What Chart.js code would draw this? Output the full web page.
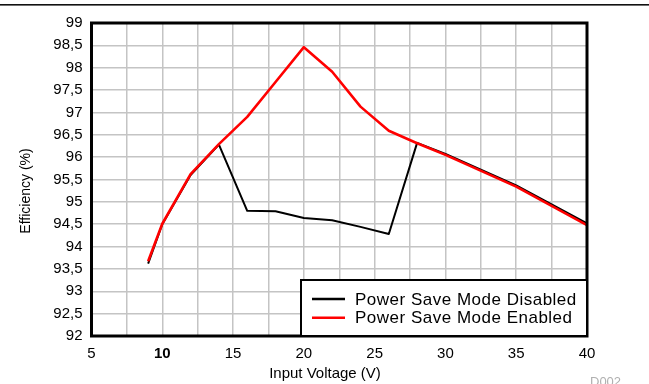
<!DOCTYPE html>
<html>
<head>
<meta charset="utf-8">
<title>Efficiency vs Input Voltage</title>
<script src="https://cdn.jsdelivr.net/npm/chart.js@4.4.1/dist/chart.umd.min.js"></script>
<style>
    html, body { margin: 0; padding: 0; background: #fff; }
    #wrap { position: relative; width: 649px; height: 384px; }
</style>
</head>
<body>
<div id="wrap"><canvas id="effChart"></canvas></div>
<script>
// --- Efficiency curves, PSM disabled / enabled ---

// 1. Data
const voltage = [9, 10, 12, 14, 16, 18, 20, 22, 24, 26, 28, 30, 35, 40];
const psmDisabled = [93.62, 94.5, 95.6, 96.28, 94.8, 94.79, 94.64, 94.59, 94.44, 94.28, 96.32, 96.07, 95.37, 94.52];
const psmEnabled = [93.67, 94.51, 95.62, 96.29, 96.9, 97.68, 98.46, 97.91, 97.13, 96.59, 96.31, 96.05, 95.34, 94.48];
const seriesLabels = ['Power Save Mode Disabled', 'Power Save Mode Enabled'];
const seriesColors = ['#000000', '#ff0000'];
const xTickLabels = [5, 10, 15, 20, 25, 30, 35, 40];
const xTitle = 'Input Voltage (V)';
const yTitle = 'Efficiency (%)';

const FONT = 'Arial, "Liberation Sans", Helvetica, sans-serif';

function toPoints(xs, ys) {
    return xs.map((x, i) => ({ x: x, y: ys[i] }));
}

// 2. Frame, axis titles, legend box and figure tag
const framePlugin = {
    id: 'frame',
    afterDatasetsDraw(chart) {
        const { ctx, chartArea: a } = chart;
        ctx.save();

        // outer plot frame
        ctx.strokeStyle = '#000';
        ctx.lineWidth = 3;
        ctx.strokeRect(a.left, a.top, a.right - a.left, a.bottom - a.top);

        // legend, anchored to the lower right corner of the plot
        const boxL = 301, boxT = 280;
        ctx.fillStyle = '#fff';
        ctx.fillRect(boxL, boxT, a.right - boxL, a.bottom - boxT);
        ctx.lineWidth = 2;
        ctx.strokeRect(boxL, boxT, a.right - boxL, a.bottom - boxT);

        ctx.font = '17px ' + FONT;
        ctx.textBaseline = 'middle';
        ctx.textAlign = 'left';
        if ('letterSpacing' in ctx) ctx.letterSpacing = '0.5px';
        chart.data.datasets.forEach((ds, i) => {
            const y = 299 + i * 18.7;
            ctx.strokeStyle = ds.borderColor;
            ctx.lineWidth = 2.5;
            ctx.beginPath();
            ctx.moveTo(312, y);
            ctx.lineTo(345, y);
            ctx.stroke();
            ctx.fillStyle = '#000';
            ctx.fillText(ds.label, 355, y + 1);
        });
        if ('letterSpacing' in ctx) ctx.letterSpacing = '0px';

        ctx.restore();
    },
    afterDraw(chart) {
        const { ctx, width } = chart;
        ctx.save();
        ctx.fillStyle = '#111';
        ctx.fillRect(0, 4, width, 1.6);

        // axis titles, centred on the whole figure
        ctx.fillStyle = '#000';
        ctx.textAlign = 'center';
        ctx.textBaseline = 'middle';
        ctx.font = '15px ' + FONT;
        ctx.fillText(xTitle, 325, 374);

        ctx.save();
        ctx.translate(26, 191);
        ctx.rotate(-Math.PI / 2);
        ctx.font = '14px ' + FONT;
        ctx.fillText(yTitle, 0, 0);
        ctx.restore();

        ctx.fillStyle = '#b0b0b0';
        ctx.font = '13px ' + FONT;
        ctx.textBaseline = 'alphabetic';
        ctx.textAlign = 'left';
        ctx.fillText('D002', 590, 386);
        ctx.restore();
    }
};

// 3. Chart
const ctx = document.getElementById('effChart').getContext('2d');
const effChart = new Chart(ctx, {
    type: 'line',
    data: {
        datasets: [
            {
                label: seriesLabels[0],
                data: toPoints(voltage, psmDisabled),
                borderColor: seriesColors[0],
                borderWidth: 2,
                order: 1
            },
            {
                label: seriesLabels[1],
                data: toPoints(voltage, psmEnabled),
                borderColor: seriesColors[1],
                borderWidth: 2.6,
                order: 0
            }
        ]
    },
    options: {
        responsive: true,
        maintainAspectRatio: false,
        animation: false,
        elements: {
            point: { radius: 0 },
            line: { tension: 0, fill: false, borderJoinStyle: 'round' }
        },
        layout: { padding: { top: 23, right: 62, bottom: 0, left: 0 } },
        scales: {
            x: {
                type: 'linear',
                min: 5,
                max: 40,
                grid: { color: '#c4c4c4', lineWidth: 1.5, drawTicks: false },
                border: { display: false },
                ticks: {
                    stepSize: 2.5,
                    padding: 9,
                    color: '#000',
                    maxRotation: 0,
                    autoSkip: false,
                    font: (c) => ({
                        family: FONT,
                        size: 15,
                        weight: c.tick && c.tick.value === 10 ? 'bold' : 'normal'
                    }),
                    callback: (v) => xTickLabels.includes(v) ? String(v) : ''
                },
                afterFit(scale) { scale.height = 48; }
            },
            y: {
                min: 92,
                max: 99,
                grid: { color: '#c4c4c4', lineWidth: 1.5, drawTicks: false },
                border: { display: false },
                ticks: {
                    stepSize: 0.5,
                    padding: 9,
                    color: '#000',
                    font: { family: FONT, size: 15 },
                    callback: (v) => String(v).replace('.', ',')
                },
                afterFit(scale) { scale.width = 91.5; }
            }
        },
        plugins: {
            legend: { display: false },
            tooltip: { enabled: false }
        }
    },
    plugins: [framePlugin]
});
</script>
</body>
</html>
